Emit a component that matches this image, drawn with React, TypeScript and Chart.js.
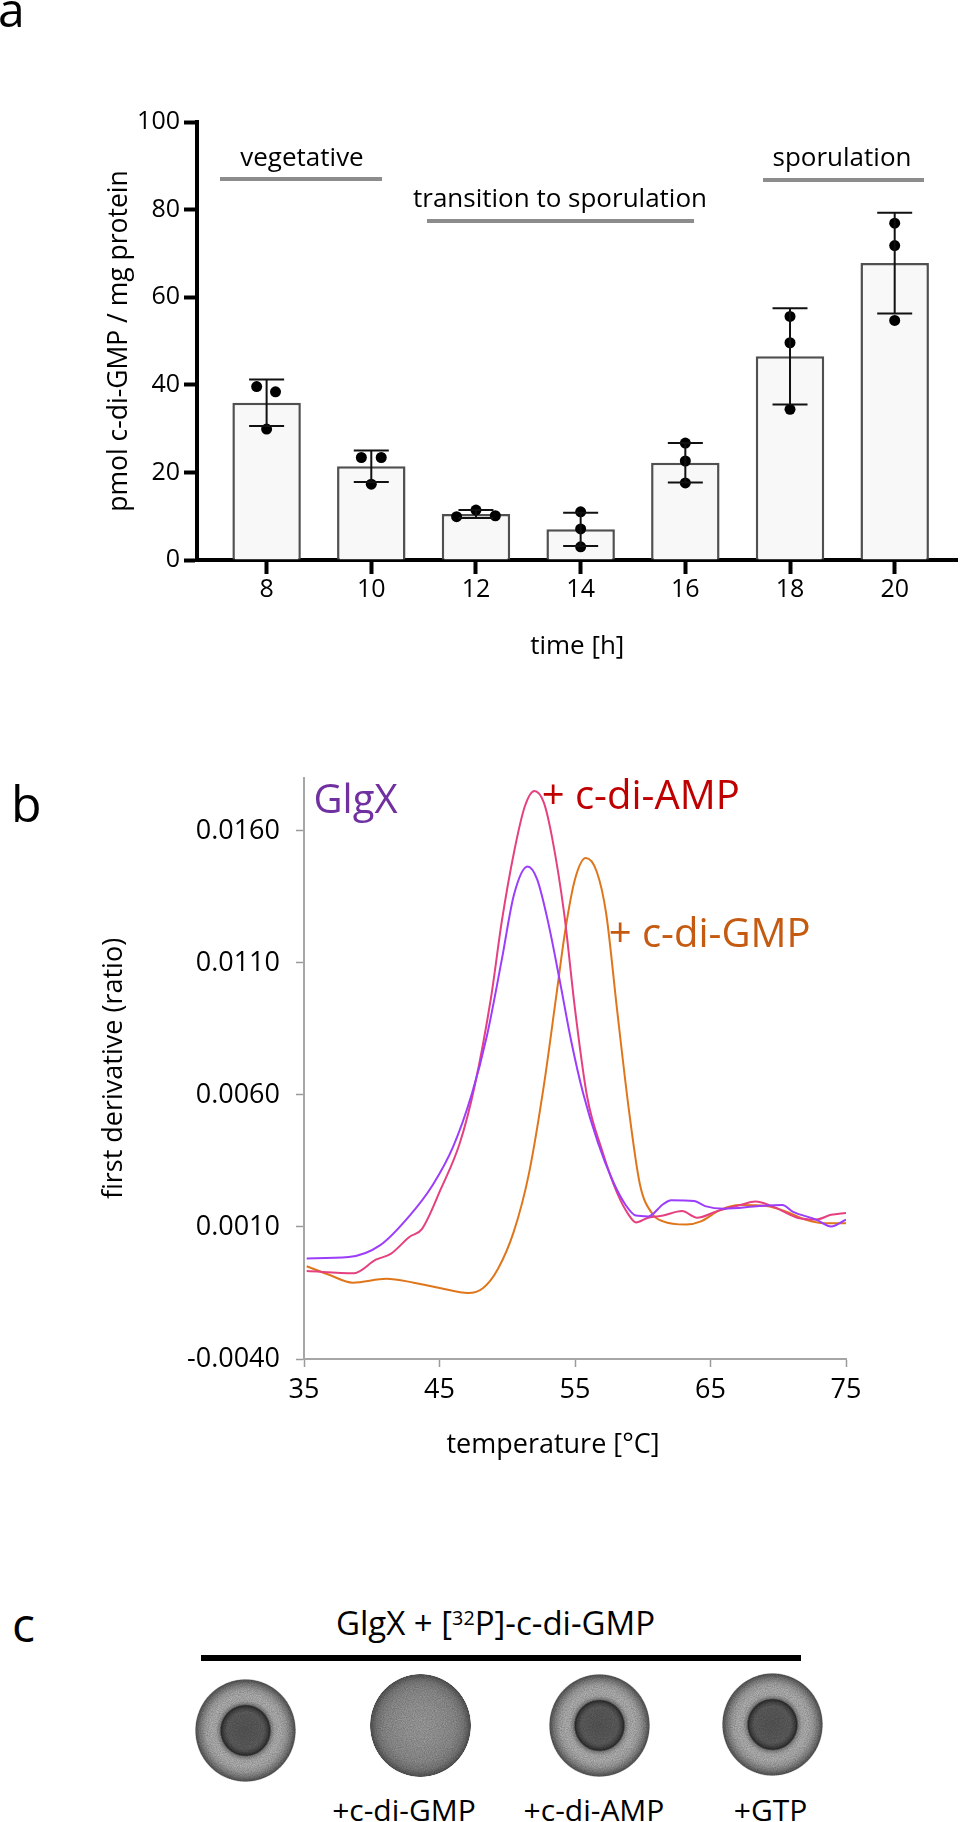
import React, { useEffect, useRef } from 'react';
import { Chart, registerables } from 'chart.js';

Chart.register(...registerables);

const FONT = "'Open Sans', 'Noto Sans', sans-serif";

// ---------- Panel a data ----------
const timeLabels = [8, 10, 12, 14, 16, 18, 20];
const meanValues = [35.9, 21.4, 10.5, 7.0, 22.2, 46.5, 67.8];
const sdValues = [5.3, 3.6, 0.9, 3.8, 4.5, 11.0, 11.5];
const replicateValues = [
  [39.6, 38.4, 29.9],
  [23.4, 23.4, 17.3],
  [9.9, 11.4, 10.1],
  [11.0, 7.1, 3.0],
  [26.7, 22.6, 17.6],
  [55.6, 49.6, 34.4],
  [76.9, 71.8, 54.7],
];
const replicateJitter = [
  [-0.19, 0.17, 0],
  [-0.19, 0.19, 0],
  [-0.37, 0, 0.37],
  [0, 0, 0],
  [0, 0, 0],
  [0, 0, 0],
  [0, 0, 0],
];
const yTicksA = [0, 20, 40, 60, 80, 100];

// ---------- Panel b data ----------
const glgxTemp = [35.2, 38.3, 40.6, 42.8, 44.5, 46.0, 47.4, 48.5, 49.6, 50.5, 51.5, 52.2, 53.0, 53.9, 54.7, 55.6, 56.7, 57.8, 58.7, 59.5, 60.4, 61.5, 62.1, 63.8, 64.6, 66.0, 68.6, 70.3, 71.1, 72.8, 73.9, 75.0];
const glgxDeriv = [-0.00019, -0.00014, 0.0003, 0.00143, 0.00259, 0.00403, 0.00606, 0.00824, 0.01113, 0.01359, 0.01465, 0.01417, 0.01258, 0.01026, 0.00809, 0.00606, 0.00418, 0.00273, 0.00186, 0.00143, 0.0014, 0.00186, 0.00201, 0.00198, 0.00179, 0.00169, 0.00179, 0.00183, 0.00157, 0.00128, 0.00102, 0.00128];

const ampTemp = [35.2, 38.7, 40.3, 41.4, 42.8, 43.7, 45.1, 46.5, 47.6, 48.8, 49.6, 50.5, 51.3, 52.0, 52.7, 53.3, 54.2, 55.0, 55.9, 57.0, 58.1, 59.0, 59.5, 60.4, 61.5, 62.9, 64.0, 65.5, 67.2, 68.3, 69.7, 71.4, 72.8, 73.9, 75.0];
const ampDeriv = [-0.00067, -0.00075, -0.00024, -0.00002, 0.00063, 0.00092, 0.00244, 0.00418, 0.00635, 0.00968, 0.01258, 0.01519, 0.01693, 0.01751, 0.01707, 0.01577, 0.01287, 0.00925, 0.00592, 0.00389, 0.0023, 0.00143, 0.00117, 0.00135, 0.00143, 0.0016, 0.00135, 0.0016, 0.00183, 0.00196, 0.00175, 0.00135, 0.00128, 0.00146, 0.00153];

const gmpTemp = [35.2, 36.9, 38.6, 41.1, 43.1, 45.1, 47.1, 48.2, 49.3, 50.5, 51.6, 52.7, 53.6, 54.3, 55.0, 55.8, 56.6, 57.3, 58.1, 59.0, 59.8, 60.7, 61.5, 63.2, 64.3, 65.7, 67.2, 69.1, 70.5, 72.0, 73.4, 75.0];
const gmpDeriv = [-0.00049, -0.00082, -0.00111, -0.00096, -0.00111, -0.00132, -0.0015, -0.00132, -0.0006, 0.00085, 0.00302, 0.00635, 0.00968, 0.01229, 0.01417, 0.01497, 0.01446, 0.01287, 0.00925, 0.00534, 0.00259, 0.0015, 0.00121, 0.00109, 0.00121, 0.00164, 0.00183, 0.00179, 0.0016, 0.00128, 0.00114, 0.00114];

const xTicksB = [35, 45, 55, 65, 75];
const yTicksB = [-0.004, 0.001, 0.006, 0.011, 0.016];

// ---------- Panel c ----------
const spotLabels = ['', '+c-di-GMP', '+c-di-AMP', '+GTP'];
const spotCompeted = [false, true, false, false];

const pair = (xs: number[], ys: number[]) => xs.map((x, i) => ({ x, y: ys[i] }));

const errorBarPlugin = {
  id: 'errorBars',
  afterDatasetsDraw(chart: any) {
    const { ctx, scales } = chart;
    const x = scales.x;
    const y = scales.y;
    ctx.save();
    ctx.strokeStyle = '#111';
    ctx.lineWidth = 2;
    timeLabels.forEach((t, i) => {
      const px = x.getPixelForValue(t);
      const top = y.getPixelForValue(meanValues[i] + sdValues[i]);
      const bot = y.getPixelForValue(meanValues[i] - sdValues[i]);
      ctx.beginPath();
      ctx.moveTo(px, top);
      ctx.lineTo(px, bot);
      ctx.moveTo(px - 17.5, top);
      ctx.lineTo(px + 17.5, top);
      ctx.moveTo(px - 17.5, bot);
      ctx.lineTo(px + 17.5, bot);
      ctx.stroke();
    });
    ctx.restore();
  },
};

function Label(props: {
  text?: string;
  x: number;
  baseline: number;
  size: number;
  color?: string;
  center?: boolean;
  children?: any;
}) {
  const { text, x, baseline, size, color = '#000', center, children } = props;
  return (
    <div
      style={{
        position: 'absolute',
        left: x,
        top: baseline - 0.888 * size,
        fontSize: size,
        lineHeight: `${size}px`,
        fontFamily: FONT,
        whiteSpace: 'nowrap',
        color,
        transform: center ? 'translateX(-50%)' : undefined,
      }}
    >
      {text}
      {children}
    </div>
  );
}

function Bar(props: { x1: number; x2: number; y: number; h: number; color: string }) {
  const { x1, x2, y, h, color } = props;
  return (
    <div
      style={{
        position: 'absolute',
        left: x1,
        top: y - h / 2,
        width: x2 - x1,
        height: h,
        background: color,
      }}
    />
  );
}

const GRAIN =
  "url(\"data:image/svg+xml;utf8,<svg xmlns='http://www.w3.org/2000/svg' width='110' height='110'><filter id='n'><feTurbulence type='fractalNoise' baseFrequency='0.9' numOctaves='2' seed='3'/><feColorMatrix values='0 0 0 0 0  0 0 0 0 0  0 0 0 0 0  0 0 0 0.35 0'/></filter><rect width='110' height='110' filter='url(%23n)'/></svg>\")";

function Spot(props: { cx: number; cy: number; competed: boolean }) {
  const { cx, cy, competed } = props;
  const bg = competed
    ? 'radial-gradient(closest-side, #adadad 0%, #a6a6a6 40%, #9b9b9b 70%, #878787 86%, #6a6a6a 95%, #5a5a5a 99%, rgba(255,255,255,0) 100%)'
    : 'radial-gradient(closest-side, #5f5f5f 0%, #676767 36%, #4a4a4a 44%, #303030 48%, #8f8f8f 51%, #bdbdbd 58%, #c4c4c4 68%, #b2b2b2 80%, #8a8a8a 90%, #5e5e5e 98%, rgba(255,255,255,0) 100%)';
  return (
    <div
      style={{
        position: 'absolute',
        left: cx - 50.5,
        top: cy - 51.5,
        width: 101,
        height: 103,
        borderRadius: '50%',
        background: `${GRAIN}, ${bg}`,
        overflow: 'hidden',
      }}
    />
  );
}

export default function App() {
  const refA = useRef<HTMLCanvasElement | null>(null);
  const refB = useRef<HTMLCanvasElement | null>(null);

  useEffect(() => {
    if (!refA.current || !refB.current) return;

    const points: { x: number; y: number }[] = [];
    timeLabels.forEach((t, i) => {
      replicateValues[i].forEach((v, j) => points.push({ x: t + replicateJitter[i][j], y: v }));
    });

    const chartA = new Chart(refA.current, {
      type: 'bar',
      data: {
        datasets: [
          {
            type: 'bar',
            data: timeLabels.map((t, i) => ({ x: t, y: meanValues[i] })),
            backgroundColor: '#f8f8f8',
            borderColor: '#505050',
            borderWidth: 2.5,
            categoryPercentage: 1,
            barPercentage: 0.654,
            order: 2,
          } as any,
          {
            type: 'scatter',
            data: points,
            pointRadius: 5.5,
            pointBackgroundColor: '#000',
            pointBorderWidth: 0,
            order: 1,
          } as any,
        ],
      },
      options: {
        responsive: false,
        animation: false,
        events: [],
        layout: { padding: { top: 122, left: 0, right: 0, bottom: 0 } },
        plugins: { legend: { display: false }, tooltip: { enabled: false } },
        scales: {
          x: {
            type: 'linear',
            offset: false,
            min: 6.67,
            max: 21.2,
            afterBuildTicks: (s: any) => {
              s.ticks = timeLabels.map((v) => ({ value: v }));
            },
            afterFit: (s: any) => {
              s.height = 140;
            },
            ticks: {
              font: { family: FONT, size: 25 },
              color: '#000',
              padding: 1,
              maxRotation: 0,
              autoSkip: false,
              callback: (v: any) => String(v),
            },
            grid: {
              display: true,
              offset: false,
              drawOnChartArea: false,
              drawTicks: true,
              tickLength: 14,
              tickWidth: 4,
              tickColor: '#000',
            },
            border: { display: true, color: '#000', width: 4 },
            title: {
              display: true,
              text: 'time [h]',
              color: '#000',
              font: { family: FONT, size: 26 },
              padding: { top: 0, bottom: 38 },
            },
          },
          y: {
            type: 'linear',
            min: 0,
            max: 100,
            afterBuildTicks: (s: any) => {
              s.ticks = yTicksA.map((v) => ({ value: v }));
            },
            afterFit: (s: any) => {
              s.width = 197;
            },
            ticks: {
              font: { family: FONT, size: 25 },
              color: '#000',
              padding: 4,
            },
            grid: {
              display: true,
              drawOnChartArea: false,
              drawTicks: true,
              tickLength: 13,
              tickWidth: 4,
              tickColor: '#000',
            },
            border: { display: true, color: '#000', width: 4 },
            title: {
              display: true,
              text: 'pmol c-di-GMP / mg protein',
              color: '#000',
              font: { family: FONT, size: 26.5 },
              padding: { top: 104, bottom: 0 },
            },
          },
        },
      } as any,
      plugins: [errorBarPlugin],
    });

    const lineStyle = (color: string) => ({
      borderColor: color,
      backgroundColor: color,
      borderWidth: 2,
      pointRadius: 0,
      fill: false,
      cubicInterpolationMode: 'monotone' as const,
    });

    const chartB = new Chart(refB.current, {
      type: 'line',
      data: {
        datasets: [
          { label: 'GlgX', data: pair(glgxTemp, glgxDeriv), ...lineStyle('#9b3dfb') },
          { label: '+ c-di-AMP', data: pair(ampTemp, ampDeriv), ...lineStyle('#e5407f') },
          { label: '+ c-di-GMP', data: pair(gmpTemp, gmpDeriv), ...lineStyle('#e0761c') },
        ],
      },
      options: {
        responsive: false,
        animation: false,
        events: [],
        layout: { padding: { top: 78, left: 0, right: 117, bottom: 0 } },
        plugins: { legend: { display: false }, tooltip: { enabled: false } },
        scales: {
          x: {
            type: 'linear',
            min: 35,
            max: 75,
            afterBuildTicks: (s: any) => {
              s.ticks = xTicksB.map((v) => ({ value: v }));
            },
            afterFit: (s: any) => {
              s.height = 121;
            },
            ticks: {
              font: { family: FONT, size: 27 },
              color: '#000',
              padding: 7,
              maxRotation: 0,
              autoSkip: false,
              callback: (v: any) => String(v),
            },
            grid: {
              display: true,
              drawOnChartArea: false,
              drawTicks: true,
              tickLength: 8,
              tickWidth: 1.5,
              tickColor: '#9a9a9a',
            },
            border: { display: true, color: '#a6a6a6', width: 2 },
          },
          y: {
            type: 'linear',
            min: -0.004,
            max: 0.018,
            afterBuildTicks: (s: any) => {
              s.ticks = yTicksB.map((v) => ({ value: v }));
            },
            afterFit: (s: any) => {
              s.width = 304;
            },
            ticks: {
              font: { family: FONT, size: 27 },
              color: '#000',
              padding: 16,
              callback: (v: any) => Number(v).toFixed(4),
            },
            grid: {
              display: true,
              drawOnChartArea: false,
              drawTicks: true,
              tickLength: 8,
              tickWidth: 1.5,
              tickColor: '#9a9a9a',
            },
            border: { display: true, color: '#a6a6a6', width: 2 },
            title: {
              display: true,
              text: 'first derivative (ratio)',
              color: '#000',
              font: { family: FONT, size: 27 },
              padding: { top: 98, bottom: 0 },
            },
          },
        },
      } as any,
    });

    return () => {
      chartA.destroy();
      chartB.destroy();
    };
  }, []);

  const spotCenters = [
    [245, 1730.5],
    [420, 1725],
    [599, 1725],
    [772, 1724],
  ];
  const spotLabelX = [245, 404, 594, 770.5];

  return (
    <div
      style={{
        position: 'absolute',
        left: 0,
        top: 0,
        width: 963,
        height: 1822,
        overflow: 'hidden',
        background: '#fff',
        fontFamily: FONT,
      }}
    >
      {/* Panel a */}
      <canvas
        ref={refA}
        width={963}
        height={700}
        style={{ position: 'absolute', left: 0, top: 0, width: 963, height: 700 }}
      />
      <Label text="a" x={-2} baseline={28} size={48} />
      <Bar x1={220} x2={382} y={179} h={4} color="#8c8c8c" />
      <Bar x1={427} x2={694} y={221} h={4} color="#8c8c8c" />
      <Bar x1={763} x2={924} y={179.5} h={4} color="#8c8c8c" />
      <Label text="vegetative" x={302} baseline={166} size={26} center />
      <Label text="transition to sporulation" x={560} baseline={207.5} size={26} center />
      <Label text="sporulation" x={842} baseline={166} size={26} center />

      {/* Panel b */}
      <canvas
        ref={refB}
        width={963}
        height={780}
        style={{ position: 'absolute', left: 0, top: 700, width: 963, height: 780 }}
      />
      <Label text="b" x={11} baseline={822} size={50} />
      <Label text="GlgX" x={313.5} baseline={813.6} size={40} color="#7030a0" />
      <Label text="+ c-di-AMP" x={541.7} baseline={810} size={40} color="#c00000" />
      <Label text="+ c-di-GMP" x={608.7} baseline={947.5} size={40} color="#c55a11" />
      <Label text="temperature [°C]" x={553} baseline={1452.5} size={27} center />

      {/* Panel c */}
      <Label text="c" x={12} baseline={1643} size={48} />
      <Label x={495.5} baseline={1635.4} size={33} center>
        {'GlgX + ['}
        <sup style={{ fontSize: '0.6em', verticalAlign: '0.5em', lineHeight: 0 }}>32</sup>
        {'P]-c-di-GMP'}
      </Label>
      <Bar x1={201} x2={801} y={1658} h={6} color="#000" />
      {spotCenters.map(([cx, cy], i) => (
        <Spot key={i} cx={cx} cy={cy} competed={spotCompeted[i]} />
      ))}
      {spotLabels.map((t, i) =>
        t ? <Label key={t} text={t} x={spotLabelX[i]} baseline={1821.4} size={30} center /> : null
      )}
    </div>
  );
}
